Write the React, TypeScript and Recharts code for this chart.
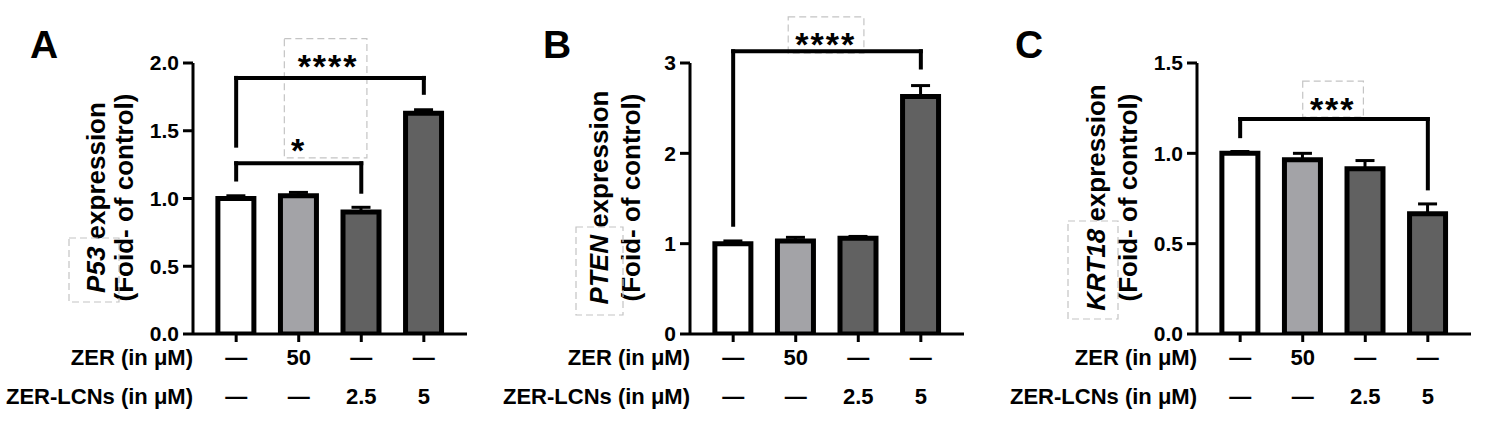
import { BarChart, Bar, XAxis, YAxis, Cell, ErrorBar, ReferenceLine, ReferenceDot, ReferenceArea } from 'recharts'

const FONT = '"Liberation Sans", Arial, Helvetica, sans-serif'

// groups along the x axis and the dose table under it
const groups = [1, 2, 3, 4]
const zerDose = ['—', '50', '—', '—']
const lcnDose = ['—', '—', '2.5', '5']
const barColors = ['#ffffff', '#a3a3a7', '#616161', '#616161']

// fold change vs control (mean, upper SEM)
const p53Mean = [1.0, 1.02, 0.9, 1.63]
const p53Err = [0.02, 0.025, 0.035, 0.025]
const ptenMean = [1.0, 1.03, 1.06, 2.63]
const ptenErr = [0.03, 0.04, 0.02, 0.12]
const krt18Mean = [1.0, 0.965, 0.915, 0.665]
const krt18Err = [0.01, 0.035, 0.045, 0.055]

const p53Ticks = [0, 0.5, 1, 1.5, 2]
const ptenTicks = [0, 1, 2, 3]
const krt18Ticks = [0, 0.5, 1, 1.5]

// brackets: group a -> b at height y, legs down to ya / yb, stars at (sx, sy)
const p53Sig = [
  { a: 1, b: 4, y: 1.89, ya: 1.39, yb: 1.78, sx: 2.47, sy: 2.03, text: '****' },
  { a: 1, b: 3, y: 1.26, ya: 1.14, yb: 1.05, sx: 2.0, sy: 1.41, text: '*' },
]
const ptenSig = [{ a: 1, b: 4, y: 3.13, ya: 1.21, yb: 2.95, sx: 2.48, sy: 3.29, text: '****' }]
const krt18Sig = [{ a: 1, b: 4, y: 1.19, ya: 1.095, yb: 0.806, sx: 2.48, sy: 1.285, text: '***' }]

// grey dashed boxes around the star labels
const p53Boxes = [{ x1: 1.77, x2: 3.09, y1: 1.3, y2: 2.18 }]
const ptenBoxes = [{ x1: 1.88, x2: 3.09, y1: 3.11, y2: 3.51 }]
const krt18Boxes = [{ x1: 2.0, x2: 2.97, y1: 1.2, y2: 1.4 }]

const toRows = (mean: number[], err: number[]) =>
  groups.map((g, i) => ({ g, v: mean[i], e: [0, err[i]] }))

const TOP = 63
const H = 432
const AXIS_W = 200
const PLOT_W = 274

function DoseTick({ x, y, payload }: any) {
  const i = groups.indexOf(payload.value)
  return (
    <g fontFamily={FONT} fontWeight={700} fontSize={22} fill="#000">
      <text x={x} y={y + 23} textAnchor="middle">{zerDose[i]}</text>
      <text x={x} y={y + 62} textAnchor="middle">{lcnDose[i]}</text>
    </g>
  )
}

function RowNames({ viewBox }: any) {
  return (
    <g fontFamily={FONT} fontWeight={700} fontSize={22} fill="#000">
      <text x={viewBox.x} y={viewBox.y + 31} textAnchor="end">ZER (in μM)</text>
      <text x={viewBox.x} y={viewBox.y + 70} textAnchor="end">ZER-LCNs (in μM)</text>
    </g>
  )
}

function Stars({ viewBox, text }: any) {
  return (
    <text x={viewBox.x} y={viewBox.y + 19} textAnchor="middle" fontFamily={FONT} fontWeight={700} fontSize={34} letterSpacing={2} fill="#000">
      {text}
    </text>
  )
}

function Panel({ p }: any) {
  const data = toRows(p.mean, p.err)
  const fmt = (v: number) => v.toFixed(p.decimals)

  const YTitle = ({ viewBox }: any) => {
    const ax = viewBox.x + viewBox.width
    const cy = viewBox.y + viewBox.height / 2 - 1
    const b = p.geneBox
    return (
      <g fontFamily={FONT} fontWeight={700} fill="#000">
        <text x={ax + p.letterDx} y={viewBox.y - 5} fontSize={39}>{p.letter}</text>
        <text transform={`translate(${ax + p.title1Dx},${cy}) rotate(-90)`} textAnchor="middle" fontSize={26}>
          <tspan fontStyle="italic">{p.gene}</tspan> expression
        </text>
        <text transform={`translate(${ax + p.title2Dx},${cy}) rotate(-90)`} textAnchor="middle" fontSize={26}>
          (Foid- of control)
        </text>
        <rect x={ax + b[0]} y={viewBox.y + b[2]} width={b[1] - b[0]} height={b[3] - b[2]} fill="none" stroke="#c4c4c4" strokeWidth={1.2} strokeDasharray="7 4" />
      </g>
    )
  }

  return (
    <div style={{ position: 'absolute', left: p.plotLeft - AXIS_W, top: 0 }}>
      <BarChart width={AXIS_W + PLOT_W + 12} height={H} data={data} margin={{ top: TOP, right: 12, bottom: 0, left: 0 }}>
        <XAxis
          type="number"
          dataKey="g"
          domain={[0.31, 4.69]}
          ticks={groups}
          allowDataOverflow
          height={H - 334}
          tickSize={8}
          tickMargin={0}
          axisLine={{ stroke: '#000', strokeWidth: 3 }}
          tickLine={{ stroke: '#000', strokeWidth: 3 }}
          tick={<DoseTick />}
          label={(props: any) => <RowNames {...props} />}
        />
        <YAxis
          width={AXIS_W}
          domain={[0, p.max]}
          ticks={p.ticks}
          allowDataOverflow
          tickFormatter={fmt}
          tickSize={10}
          tickMargin={4}
          axisLine={{ stroke: '#000', strokeWidth: 3 }}
          tickLine={{ stroke: '#000', strokeWidth: 3 }}
          tick={{ fill: '#000', fontSize: 21, fontWeight: 700, fontFamily: FONT }}
          label={(props: any) => <YTitle {...props} />}
        />
        {p.boxes.map((b: any, i: number) => (
          <ReferenceArea key={'b' + i} x1={b.x1} x2={b.x2} y1={b.y1} y2={b.y2} fill="none" stroke="#c4c4c4" strokeWidth={1.2} strokeDasharray="7 4" ifOverflow="visible" />
        ))}
        <Bar dataKey="v" barSize={36} stroke="#000" strokeWidth={5} isAnimationActive={false}>
          {data.map((_, i) => (
            <Cell key={i} fill={barColors[i]} />
          ))}
          <ErrorBar dataKey="e" width={9.5} stroke="#000" strokeWidth={3} isAnimationActive={false} />
        </Bar>
        {p.sig.map((s: any, i: number) => [
          <ReferenceLine key={'h' + i} segment={[{ x: s.a, y: s.y }, { x: s.b, y: s.y }]} stroke="#000" strokeWidth={4} strokeLinecap="square" ifOverflow="visible" />,
          <ReferenceLine key={'l' + i} segment={[{ x: s.a, y: s.ya }, { x: s.a, y: s.y }]} stroke="#000" strokeWidth={4} strokeLinecap="square" ifOverflow="visible" />,
          <ReferenceLine key={'r' + i} segment={[{ x: s.b, y: s.yb }, { x: s.b, y: s.y }]} stroke="#000" strokeWidth={4} strokeLinecap="square" ifOverflow="visible" />,
          <ReferenceDot key={'s' + i} x={s.sx} y={s.sy} r={0} fill="none" stroke="none" ifOverflow="visible" label={(props: any) => <Stars {...props} text={s.text} />} />,
        ])}
      </BarChart>
    </div>
  )
}

const panels = [
  {
    letter: 'A', gene: 'P53', plotLeft: 193, max: 2, ticks: p53Ticks, decimals: 1,
    mean: p53Mean, err: p53Err, sig: p53Sig, boxes: p53Boxes,
    letterDx: -163, title1Dx: -88, title2Dx: -60, geneBox: [-124, -74, 175, 239],
  },
  {
    letter: 'B', gene: 'PTEN', plotLeft: 690, max: 3, ticks: ptenTicks, decimals: 0,
    mean: ptenMean, err: ptenErr, sig: ptenSig, boxes: ptenBoxes,
    letterDx: -147, title1Dx: -82, title2Dx: -50, geneBox: [-114, -67, 164, 252],
  },
  {
    letter: 'C', gene: 'KRT18', plotLeft: 1197, max: 1.5, ticks: krt18Ticks, decimals: 1,
    mean: krt18Mean, err: krt18Err, sig: krt18Sig, boxes: krt18Boxes,
    letterDx: -182, title1Dx: -92, title2Dx: -60, geneBox: [-129, -79, 158, 256],
  },
]

export default function App() {
  return (
    <div style={{ position: 'relative', width: 1505, height: 432, background: '#fff', overflow: 'hidden' }}>
      <style>{'body{margin:0}'}</style>
      {panels.map((p) => (
        <Panel key={p.letter} p={p} />
      ))}
    </div>
  )
}
